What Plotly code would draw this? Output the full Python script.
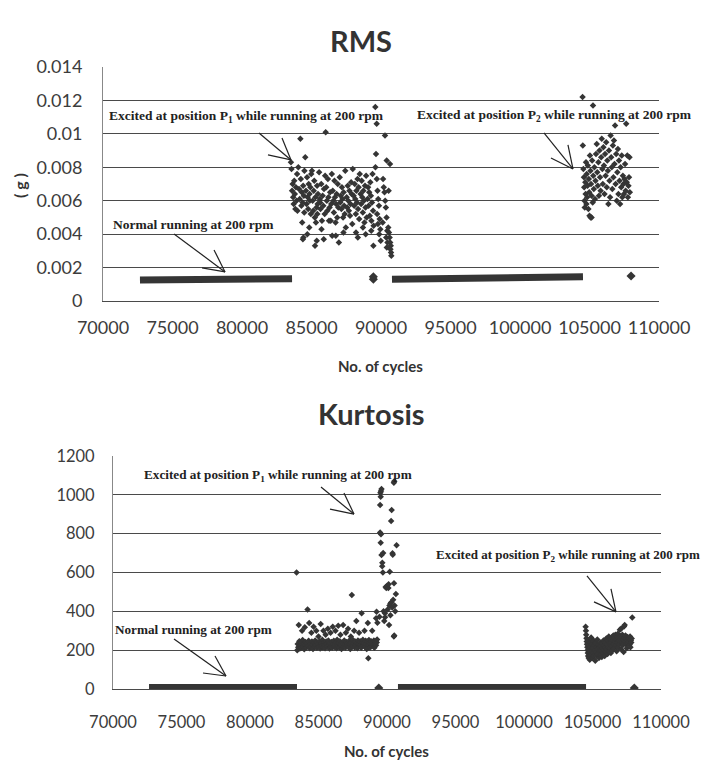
import plotly.graph_objects as go

# ---------------- data ----------------
x_tick_vals = [70000, 75000, 80000, 85000, 90000, 95000, 100000, 105000, 110000]
x_tick_text = ["70000", "75000", "80000", "85000", "90000", "95000", "100000", "105000", "110000"]
rms_tick_vals = [0, 0.002, 0.004, 0.006, 0.008, 0.010, 0.012, 0.014]
rms_tick_text = ["0", "0.002", "0.004", "0.006", "0.008", "0.01", "0.012", "0.014"]
kurt_tick_vals = [0, 200, 400, 600, 800, 1000, 1200]
kurt_tick_text = ["0", "200", "400", "600", "800", "1000", "1200"]

# RMS normal-running bands (dense runs of points)
rms_normal1_x = [72660, 74000, 76000, 78000, 80000, 82000, 83600]
rms_normal1_y = [0.00125, 0.00127, 0.0013, 0.00133, 0.00135, 0.00135, 0.00133]
rms_normal2_x = [90790, 93000, 95000, 97000, 99000, 101000, 103000, 104530]
rms_normal2_y = [0.0013, 0.00133, 0.00138, 0.0014, 0.00142, 0.00145, 0.00145, 0.00145]
rms_lone_x = [89450, 89450, 107990]
rms_lone_y = [0.0013, 0.00145, 0.0015]

# RMS excited at P1
rms_p1 = [
    (83520, 0.0083), (83560, 0.0079), (83600, 0.0066), (83640, 0.0070), (83680, 0.0062), (83720, 0.0058),
    (83760, 0.0072), (83800, 0.0064), (83840, 0.0055), (83880, 0.0068), (83920, 0.0060), (83960, 0.0076),
    (83990, 0.0054), (84050, 0.0080), (84100, 0.0067), (84150, 0.0061), (84200, 0.0097), (84230, 0.0073),
    (84270, 0.0057), (84300, 0.0065), (84330, 0.0047), (84360, 0.0059), (84400, 0.0069), (84420, 0.0038),
    (84450, 0.0063), (84480, 0.0053), (84490, 0.0078), (84380, 0.0037), (84550, 0.0086), (84600, 0.0066),
    (84640, 0.0058), (84680, 0.0074), (84720, 0.0062), (84760, 0.0055), (84800, 0.0070), (84840, 0.0044),
    (84880, 0.0060), (84920, 0.0068), (84950, 0.0052), (84980, 0.0076), (84700, 0.0040), (84860, 0.0064),
    (85030, 0.0078), (85080, 0.0060), (85120, 0.0054), (85160, 0.0066), (85200, 0.0072), (85240, 0.0050),
    (85280, 0.0062), (85320, 0.0047), (85360, 0.0056), (85400, 0.0069), (85440, 0.0058), (85470, 0.0064),
    (85250, 0.0033), (85380, 0.0036), (85420, 0.0052), (85550, 0.0077), (85600, 0.0061), (85650, 0.0055),
    (85700, 0.0070), (85750, 0.0048), (85800, 0.0063), (85850, 0.0057), (85900, 0.0067), (85950, 0.0052),
    (85980, 0.0075), (85720, 0.0043), (85880, 0.0037), (85620, 0.0059), (86020, 0.0101), (86060, 0.0068),
    (86100, 0.0060), (86140, 0.0054), (86180, 0.0073), (86220, 0.0062), (86260, 0.0048), (86300, 0.0056),
    (86340, 0.0065), (86380, 0.0048), (86420, 0.0058), (86460, 0.0076), (86490, 0.0039), (86530, 0.0066),
    (86570, 0.0060), (86610, 0.0053), (86650, 0.0072), (86690, 0.0062), (86730, 0.0047), (86770, 0.0058),
    (86810, 0.0064), (86850, 0.0050), (86890, 0.0070), (86930, 0.0056), (86970, 0.0035), (86750, 0.0039),
    (87030, 0.0074), (87070, 0.0059), (87110, 0.0063), (87150, 0.0055), (87190, 0.0068), (87230, 0.0061),
    (87270, 0.0050), (87310, 0.0065), (87350, 0.0057), (87390, 0.0052), (87430, 0.0078), (87470, 0.0044),
    (87300, 0.0041), (87530, 0.0062), (87570, 0.0056), (87610, 0.0069), (87650, 0.0060), (87690, 0.0054),
    (87730, 0.0066), (87770, 0.0051), (87810, 0.0058), (87850, 0.0071), (87890, 0.0064), (87930, 0.0046),
    (87970, 0.0079), (88030, 0.0063), (88070, 0.0057), (88110, 0.0070), (88150, 0.0061), (88190, 0.0052),
    (88230, 0.0066), (88270, 0.0059), (88310, 0.0073), (88350, 0.0055), (88390, 0.0068), (88430, 0.0049),
    (88470, 0.0076), (88200, 0.0041), (88330, 0.0038), (88530, 0.0064), (88570, 0.0058), (88610, 0.0072),
    (88650, 0.0062), (88690, 0.0053), (88730, 0.0066), (88770, 0.0060), (88810, 0.0047), (88850, 0.0069),
    (88890, 0.0056), (88930, 0.0075), (88970, 0.0050), (88700, 0.0044), (88900, 0.0040), (89030, 0.0061),
    (89070, 0.0068), (89110, 0.0057), (89150, 0.0065), (89190, 0.0051), (89230, 0.0071), (89270, 0.0063),
    (89310, 0.0048), (89350, 0.0059), (89390, 0.0076), (89430, 0.0054), (89470, 0.0045), (89300, 0.0042),
    (89450, 0.0033), (89590, 0.0116), (89690, 0.0106), (89640, 0.0088), (89600, 0.0080), (89700, 0.0073),
    (89750, 0.0066), (89800, 0.0061), (89850, 0.0057), (89720, 0.0052), (89900, 0.0049), (89780, 0.0046),
    (89950, 0.0043), (89870, 0.0040), (89980, 0.0036), (90290, 0.0099), (90410, 0.0084), (90150, 0.0073),
    (90200, 0.0068), (90250, 0.0065), (90300, 0.0060), (90350, 0.0056), (90400, 0.0050), (90120, 0.0047),
    (90450, 0.0042), (90380, 0.0038), (90470, 0.0035), (90420, 0.0032), (90550, 0.0066), (90650, 0.0082),
    (90520, 0.0044), (90570, 0.0041), (90620, 0.0038), (90660, 0.0035), (90700, 0.0033), (90680, 0.0031),
    (90720, 0.0029), (90740, 0.0027),
]

# RMS excited at P2
rms_p2 = [
    (104500, 0.0122), (104520, 0.0093), (104560, 0.0079), (104600, 0.0074), (104620, 0.0068), (104640, 0.0060),
    (104660, 0.0056), (104700, 0.0071), (104720, 0.0064), (104750, 0.0083), (104780, 0.0058), (104800, 0.0076),
    (104830, 0.0062), (104860, 0.0069), (104880, 0.0081), (104920, 0.0055), (104950, 0.0073), (104980, 0.0065),
    (105000, 0.0051), (105080, 0.0050), (105150, 0.0050), (105250, 0.0117), (105030, 0.0087), (105070, 0.0078),
    (105110, 0.0070), (105150, 0.0063), (105190, 0.0084), (105230, 0.0059), (105270, 0.0075), (105310, 0.0067),
    (105350, 0.0080), (105390, 0.0061), (105430, 0.0072), (105470, 0.0088), (105520, 0.0094), (105560, 0.0077),
    (105600, 0.0069), (105640, 0.0083), (105680, 0.0063), (105720, 0.0090), (105760, 0.0074), (105800, 0.0066),
    (105840, 0.0086), (105880, 0.0097), (105920, 0.0079), (105960, 0.0070), (106000, 0.0092), (106040, 0.0081),
    (106080, 0.0064), (106120, 0.0088), (106160, 0.0075), (106200, 0.0095), (106240, 0.0068), (106280, 0.0084),
    (106320, 0.0078), (106360, 0.0058), (106400, 0.0090), (106440, 0.0072), (106480, 0.0062), (106520, 0.0099),
    (106560, 0.0086), (106600, 0.0080), (106640, 0.0067), (106680, 0.0093), (106720, 0.0074), (106760, 0.0096),
    (106800, 0.0082), (106840, 0.0105), (106880, 0.0070), (106920, 0.0088), (106960, 0.0060), (107000, 0.0077),
    (107040, 0.0091), (107080, 0.0064), (107120, 0.0084), (107160, 0.0072), (107200, 0.0058), (107240, 0.0080),
    (107280, 0.0068), (107320, 0.0087), (107360, 0.0062), (107400, 0.0075), (107440, 0.0070), (107480, 0.0064),
    (107520, 0.0073), (107560, 0.0082), (107600, 0.0066), (107640, 0.0106), (107680, 0.0071), (107720, 0.0087),
    (107760, 0.0062), (107800, 0.0069), (107840, 0.0074), (107880, 0.0086), (107900, 0.0065),
]

# Kurtosis normal-running bands
kurt_normal1_x = [72630, 83430]
kurt_normal1_y = [5, 5]
kurt_normal2_x = [90800, 104530]
kurt_normal2_y = [5, 5]
kurt_lone_x = [89400, 108050]
kurt_lone_y = [5, 5]

# Kurtosis excited at P1
kurt_p1 = [
    (83400, 600), (83450, 200), (83480, 232), (83520, 215), (83560, 330), (83600, 246), (83640, 208),
    (83680, 224), (83720, 238), (83760, 212), (83800, 300), (83840, 252), (83880, 220), (83920, 230),
    (83960, 205), (84000, 318), (84040, 242), (84080, 226), (84120, 214), (84160, 236), (84200, 410),
    (84240, 222), (84280, 248), (84320, 340), (84360, 210), (84400, 232), (84440, 218), (84480, 290),
    (84520, 244), (84560, 228), (84600, 206), (84640, 320), (84680, 238), (84720, 216), (84760, 250),
    (84800, 225), (84840, 300), (84880, 212), (84920, 240), (84960, 230), (85000, 270), (85040, 218),
    (85080, 246), (85120, 208), (85160, 335), (85200, 234), (85240, 222), (85280, 254), (85320, 214),
    (85360, 300), (85400, 240), (85440, 226), (85480, 210), (85520, 280), (85560, 244), (85600, 232),
    (85640, 218), (85680, 310), (85720, 250), (85760, 224), (85800, 208), (85840, 236), (85880, 290),
    (85920, 220), (85960, 242), (86000, 212), (86040, 320), (86080, 232), (86120, 248), (86160, 216),
    (86200, 228), (86240, 300), (86280, 240), (86320, 210), (86360, 254), (86400, 222), (86440, 326),
    (86480, 236), (86520, 214), (86560, 246), (86600, 280), (86640, 226), (86680, 206), (86720, 240),
    (86760, 232), (86800, 330), (86840, 218), (86880, 250), (86920, 228), (86960, 212), (87000, 290),
    (87040, 242), (87080, 224), (87120, 236), (87160, 310), (87200, 216), (87240, 248), (87280, 230),
    (87320, 206), (87360, 270), (87400, 240), (87430, 484), (87480, 222), (87520, 252), (87560, 234),
    (87600, 300), (87640, 214), (87680, 244), (87720, 226), (87760, 350), (87800, 238), (87840, 210),
    (87880, 250), (87920, 232), (87960, 290), (88000, 220), (88040, 246), (88080, 228), (88120, 212),
    (88150, 390), (88200, 240), (88240, 254), (88280, 224), (88320, 236), (88360, 300), (88400, 216),
    (88440, 248), (88480, 232), (88520, 206), (88560, 244), (88600, 340), (88640, 226), (88635, 158),
    (88680, 252), (88720, 238), (88760, 214), (88800, 234), (88840, 246), (88880, 220), (88920, 300),
    (88960, 240), (89000, 228), (89040, 250), (89080, 212), (89120, 236), (89160, 244), (89200, 225),
    (89240, 398), (89250, 240), (89280, 255), (89200, 364), (89300, 341), (89450, 372), (89520, 1011),
    (89560, 1020), (89600, 1030), (89540, 990), (89500, 947), (89560, 797), (89540, 753), (89500, 806),
    (89600, 690), (89660, 650), (89650, 632), (89700, 600), (89720, 700), (89850, 390), (89860, 370),
    (89800, 350), (89900, 525), (89950, 520), (90000, 530), (90100, 520), (90120, 540), (90200, 604),
    (90300, 865), (90340, 922), (90400, 699), (90420, 692), (90500, 1062), (90530, 1070), (90510, 544),
    (90650, 489), (90700, 740), (90180, 430), (90250, 440), (90300, 445), (90380, 420), (90450, 460),
    (90550, 430), (90600, 400), (90500, 270), (90530, 275), (90250, 380), (90150, 330), (90050, 410),
    (89750, 400),
]

# Kurtosis excited at P2
kurt_p2 = [
    (104500, 320), (104520, 300), (104540, 280), (104560, 262), (104580, 245), (104600, 230), (104620, 215),
    (104640, 200), (104660, 185), (104680, 170), (104700, 250), (104720, 160), (104740, 225), (104760, 205),
    (104780, 190), (104800, 150), (104820, 240), (104850, 215), (104880, 175), (104900, 265), (104930, 198),
    (104960, 230), (104990, 160), (105020, 210), (105050, 185), (105080, 250), (105110, 170), (105140, 225),
    (105170, 200), (105200, 145), (105230, 238), (105260, 190), (105290, 215), (105320, 170), (105350, 255),
    (105380, 205), (105410, 180), (105440, 228), (105470, 160), (105500, 212), (105530, 195), (105560, 240),
    (105590, 175), (105620, 220), (105650, 200), (105680, 165), (105710, 235), (105740, 210), (105770, 185),
    (105800, 250), (105830, 200), (105860, 225), (105890, 170), (105920, 215), (105950, 240), (105980, 190),
    (106010, 260), (106040, 205), (106070, 230), (106100, 180), (106130, 250), (106160, 215), (106190, 270),
    (106220, 195), (106250, 235), (106280, 210), (106310, 255), (106340, 185), (106370, 240), (106400, 265),
    (106430, 220), (106460, 200), (106490, 250), (106520, 275), (106550, 230), (106580, 210), (106610, 260),
    (106640, 245), (106670, 280), (106700, 225), (106730, 255), (106760, 195), (106790, 270), (106820, 240),
    (106850, 285), (106880, 215), (106910, 260), (106940, 250), (106970, 230), (107000, 305), (107030, 272),
    (107060, 245), (107090, 205), (107100, 312), (107120, 265), (107150, 240), (107180, 280), (107210, 225),
    (107240, 255), (107270, 190), (107300, 322), (107330, 265), (107350, 330), (107380, 245), (107410, 275),
    (107440, 230), (107470, 260), (107500, 210), (107530, 250), (107560, 268), (107590, 235), (107620, 258),
    (107650, 245), (107680, 262), (107710, 228), (107740, 270), (107770, 215), (107800, 250), (107830, 240),
    (107860, 260), (107900, 368),
]

# ---------------- figure ----------------
PT = "#353535"
MARK = dict(symbol="diamond", size=5, color=PT, line=dict(width=0))

fig = go.Figure()


def add_points(pts, xa, ya):
    fig.add_trace(go.Scatter(x=[p[0] for p in pts], y=[p[1] for p in pts], mode="markers",
                             marker=MARK, xaxis=xa, yaxis=ya, showlegend=False, hoverinfo="skip"))


def add_band(xs, ys, xa, ya, w):
    fig.add_trace(go.Scatter(x=xs, y=ys, mode="lines", line=dict(color=PT, width=w),
                             xaxis=xa, yaxis=ya, showlegend=False, hoverinfo="skip"))


# top (RMS)
add_band(rms_normal1_x, rms_normal1_y, "x", "y", 7)
add_band(rms_normal2_x, rms_normal2_y, "x", "y", 7)
fig.add_trace(go.Scatter(x=rms_lone_x, y=rms_lone_y, mode="markers", marker=dict(symbol="diamond", size=7, color=PT),
                         xaxis="x", yaxis="y", showlegend=False, hoverinfo="skip"))
add_points(rms_p1, "x", "y")
add_points(rms_p2, "x", "y")

# bottom (Kurtosis)
add_band(kurt_normal1_x, kurt_normal1_y, "x2", "y2", 8)
add_band(kurt_normal2_x, kurt_normal2_y, "x2", "y2", 8)
fig.add_trace(go.Scatter(x=kurt_lone_x, y=kurt_lone_y, mode="markers", marker=dict(symbol="diamond", size=7, color=PT),
                         xaxis="x2", yaxis="y2", showlegend=False, hoverinfo="skip"))
add_points(kurt_p1, "x2", "y2")
add_points(kurt_p2, "x2", "y2")

# the page body adds an 8 px offset; figure is sized to fit inside the window
OFF = 8
W, H = 712 - OFF, 766 - OFF
GRID = "#4a4a4a"
TICKC = "#3c3c3c"
SANS = "Lato, 'Open Sans', sans-serif"
SERIF = "'Liberation Serif', 'DejaVu Serif', serif"


def px(sx):
    return (sx - OFF) / W


def py(sy):
    return 1 - (sy - OFF) / H


def xaxis(dom, size, standoff, anchor):
    return dict(domain=dom, range=[70000, 110000], tickvals=x_tick_vals, ticktext=x_tick_text,
                showgrid=False, zeroline=False, showline=True, linecolor=GRID, linewidth=1,
                ticks="", tickangle=0, automargin=False, anchor=anchor,
                tickfont=dict(family=SANS, size=size, color=TICKC),
                ticklabelstandoff=standoff, fixedrange=True)


def yaxis(dom, rng, vals, text, size, standoff, anchor):
    return dict(domain=dom, range=rng, tickvals=vals, ticktext=text, showgrid=True,
                gridcolor=GRID, gridwidth=1, zeroline=False, showline=True, linecolor="#888",
                linewidth=1, ticks="", automargin=False, tickfont=dict(family=SANS, size=size, color=TICKC),
                ticklabelstandoff=standoff, anchor=anchor, fixedrange=True)


fig.update_layout(
    width=W, height=H, margin=dict(l=0, r=0, t=0, b=0, autoexpand=False),
    paper_bgcolor="white", plot_bgcolor="white",
    xaxis=xaxis([px(103), px(659)], 18, 10, "y"),
    yaxis=yaxis([py(301), py(67)], [0, 0.014], rms_tick_vals, rms_tick_text, 18, 16, "x"),
    xaxis2=xaxis([px(113), px(661)], 16.5, 18, "y2"),
    yaxis2=yaxis([py(689), py(456)], [0, 1200], kurt_tick_vals, kurt_tick_text, 16.5, 14, "x2"),
)


# titles
def paper_text(txt, x, y, size, bold=True, family=SANS, angle=0, color="#333"):
    fig.add_annotation(text=f"<b>{txt}</b>" if bold else txt, x=px(x), y=py(y), xref="paper", yref="paper",
                       showarrow=False, xanchor="center", yanchor="middle", textangle=angle,
                       font=dict(family=family, size=size, color=color))


paper_text("RMS", 361, 40, 29)
paper_text("Kurtosis", 371, 413, 29)
paper_text("No. of cycles", 380, 366, 15)
paper_text("No. of cycles", 386, 751, 15)
paper_text("( g )", 20, 186, 16, angle=-90)

# labels inside plots
labels = [
    ("x", "y", 80350, 0.01103, 13.5, "Excited at position P<sub>1</sub> while running at 200 rpm"),
    ("x", "y", 102455, 0.01109, 13.5, "Excited at position P<sub>2</sub> while running at 200 rpm"),
    ("x", "y", 76490, 0.00455, 13.5, "Normal running at 200 rpm"),
    ("x2", "y2", 82015, 1098, 13.2, "Excited at position P<sub>1</sub> while running at 200 rpm"),
    ("x2", "y2", 103200, 686, 13.0, "Excited at position P<sub>2</sub> while running at 200 rpm"),
    ("x2", "y2", 75912, 304, 13.2, "Normal running at 200 rpm"),
]
for xr, yr, x, y, fs, t in labels:
    fig.add_annotation(text=f"<b>{t}</b>", x=x, y=y, xref=xr, yref=yr, showarrow=False,
                       xanchor="center", yanchor="middle",
                       font=dict(family=SERIF, size=fs, color="#222"))

# arrows: tip (data coords), tail offset and two barb offsets (pixels, +y = down)
arrows = [
    ("x", "y", 78780, 0.00174, (-51, -38), [(-11, -22), (-23, -4)]),
    ("x", "y", 83525, 0.00844, (-32, -27), [(-9, -22), (-23, -5)]),
    ("x", "y", 103810, 0.0079, (-29, -36), [(-5, -24), (-22, -11)]),
    ("x2", "y2", 78248, 67, (-52, -37), [(-11, -20), (-23, -3)]),
    ("x2", "y2", 87590, 901, (-33, -27), [(-10, -21), (-24, -5)]),
    ("x2", "y2", 106714, 397, (-29, -36), [(-5, -23), (-22, -10)]),
]
for xr, yr, x, y, tail, barbs in arrows:
    for dx, dy in [tail] + barbs:
        fig.add_shape(type="line", xref=xr, yref=yr, xsizemode="pixel", ysizemode="pixel",
                      xanchor=x, yanchor=y, x0=0, y0=0, x1=dx, y1=-dy,
                      line=dict(color="#222", width=1.2))

fig.write_html("out.html")
